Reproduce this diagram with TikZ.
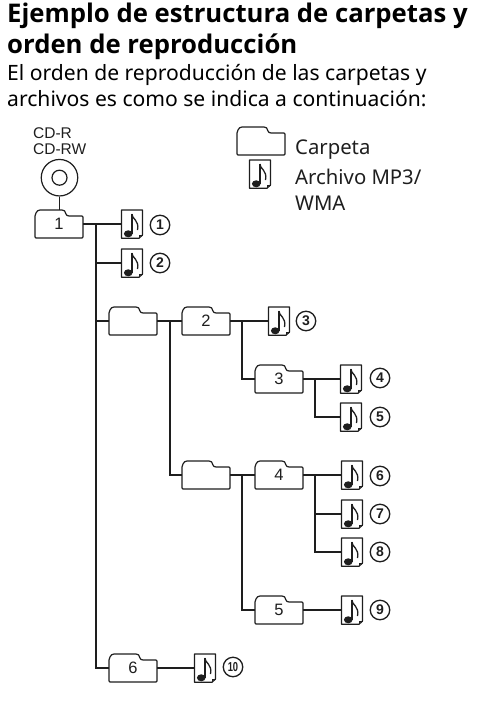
\documentclass[tikz,border=0pt]{standalone}
\usepackage{fontspec}
\setmainfont{Noto Sans}
\newfontfamily\arialf{Liberation Sans}
\newfontfamily\headf{Open Sans Bold}
\definecolor{ink}{HTML}{1E1E1E}
\tikzset{
  x=1pt,y=-1pt,
  conn/.style={draw=ink,line width=1.5pt},
  outl/.style={draw=ink,line width=1.2pt,line join=round,fill=white},
  foldbox/.style={minimum width=48pt,minimum height=28pt,inner sep=0pt,font=\arialf\fontsize{16.5}{16.5}\selectfont,text=ink},
  filebox/.style={minimum width=21pt,minimum height=28pt,inner sep=0pt},
  numc/.style={circle,draw=ink,line width=1.3pt,minimum size=19.5pt,inner sep=0pt,text=ink,font=\arialf\bfseries\fontsize{14}{14}\selectfont},
  head/.style={anchor=base west,inner sep=0pt,font=\headf\fontsize{25.7}{26}\selectfont,text=black},
  body/.style={anchor=base west,inner sep=0pt,font=\fontsize{21.1}{22}\selectfont,text=black},
  leg/.style={anchor=base west,inner sep=0pt,font=\fontsize{20.3}{21}\selectfont,text=ink},
  cdl/.style={anchor=base west,inner sep=0pt,font=\arialf\fontsize{15.5}{16}\selectfont,text=ink}
}
% folder outline around centre (x,y)
\newcommand{\foldshape}[2]{%
  \draw[outl,shift={(#1,#2)}] (-23,14) -- (23,14) .. controls (23.7,14) and (24,13.7) .. (24,13)
   -- (24,-7) .. controls (24,-7.7) and (23.7,-8) .. (23,-8) -- (10,-8) .. controls (8,-8) and (7.5,-9) .. (7,-10)
   .. controls (6,-13) and (5.5,-14) .. (3,-14) -- (-19,-14) .. controls (-21,-14) and (-22,-13) .. (-23,-11)
   .. controls (-23.7,-10) and (-24,-9.5) .. (-24,-8) -- (-24,13) .. controls (-24,13.7) and (-23.7,14) .. (-23,14) -- cycle;}
\newcommand{\fold}[4]{% name, x, y, label
  \foldshape{#2}{#3}
  \node[foldbox] (#1) at (#2,#3) {\raisebox{-1pt}{#4}};}
% file (note) around centre
\newcommand{\notefile}[3]{% name, x, y
  \draw[outl,shift={(#2,#3)}] (-10.5,-14) -- (10.5,-14) -- (10.5,11) -- (7,14.3) -- (-10.5,14.3) -- cycle;
  \draw[ink,line width=0.7pt,shift={(#2,#3)}] (7,14) -- (7,11) -- (10.5,11);
  \fill[ink,shift={(#2,#3)}] (-3.8,9.8) ellipse (4.3 and 3.5);
  \draw[ink,line width=1.6pt,shift={(#2,#3)}] (-0.3,10) -- (-0.3,-10);
  \draw[ink,line width=1.3pt,shift={(#2,#3)}] (-0.3,-10) .. controls (0.2,-5) and (7.5,-3.5) .. (5.5,6);
  \node[filebox] (#1) at (#2,#3) {};}
\newcommand{\numb}[4]{% name,x,y,text
  \node[numc] (#1) at (#2,#3) {#4};}
\begin{document}
\begin{tikzpicture}
\useasboundingbox (0,0) rectangle (478,705);
\node[head] (h1) at (7,22) {Ejemplo de estructura de carpetas y};
\node[head] (h2) at (7,53) {orden de reproducción};
\node[body] (b1) at (7,80) {El orden de reproducción de las carpetas y};
\node[body] (b2) at (7,106) {archivos es como se indica a continuación:};
% legend
\foldshape{261}{141}
\node[foldbox] (lf) at (261,141) {};
\notefile{ln}{260}{174}
\node[leg] (t1) at (295,154) {Carpeta};
\node[leg] (t2) at (295,184) {Archivo MP3/};
\node[leg] (t3) at (295,210) {WMA};
% disc
\node[cdl] (c1) at (33,138) {CD-R};
\node[cdl] (c2) at (33,154) {CD-RW};
\node[circle,draw=ink,line width=1.2pt,minimum size=36.5pt,inner sep=0pt] (disc) at (59.5,177.7) {};
\node[circle,draw=ink,line width=1.2pt,minimum size=15pt,inner sep=0pt] (hole) at (59.5,177.7) {};
% folders and files
\fold{f1}{59}{224}{1}
\notefile{n1}{132}{224}
\notefile{n2}{132}{263}
\fold{fa}{133}{321}{}
\fold{f2}{206}{321}{2}
\notefile{n3}{279}{321}
\fold{f3}{279}{379}{3}
\notefile{n4}{351}{379}
\notefile{n5}{351}{417}
\fold{fb}{206}{475}{}
\fold{f4}{279}{475}{4}
\notefile{n6}{352}{475}
\notefile{n7}{352}{514}
\notefile{n8}{352}{552}
\fold{f5}{279}{610}{5}
\notefile{n9}{352}{610}
\fold{f6}{133}{668}{6}
\notefile{n10}{205}{668}
% numbers
\numb{k1}{160}{225}{1}
\numb{k2}{160}{263}{2}
\numb{k3}{306}{321}{3}
\numb{k4}{380}{378}{4}
\numb{k5}{380}{417}{5}
\numb{k6}{380}{476}{6}
\numb{k7}{380}{514}{7}
\numb{k8}{380}{552}{8}
\numb{k9}{380}{610}{9}
\node[numc,font=\arialf\bfseries\fontsize{13}{13}\selectfont] (k10) at (233,667) {\scalebox{0.72}[1]{10}};
% connectors
\draw[conn] (disc) -- (f1.north -| disc);
\draw[conn] (f1.east) -- (n1.west);
\coordinate (t1j) at (96,224);
\draw[conn] (t1j) |- (n2.west);
\draw[conn] (t1j) |- (fa.west);
\draw[conn] (t1j) |- (f6.west);
\draw[conn] (fa.east) -- (f2.west);
\coordinate (t2j) at (170,321);
\draw[conn] (t2j) |- (fb.west);
\draw[conn] (f2.east) -- (n3.west);
\coordinate (t3j) at (242,321);
\draw[conn] (t3j) |- (f3.west);
\draw[conn] (f3.east) -- (n4.west);
\coordinate (t4j) at (315,379);
\draw[conn] (t4j) |- (n5.west);
\draw[conn] (fb.east) -- (f4.west);
\draw[conn] (f4.east) -- (n6.west);
\coordinate (t5j) at (315,475);
\draw[conn] (t5j) |- (n7.west);
\draw[conn] (t5j) |- (n8.west);
\coordinate (t6j) at (242,475);
\draw[conn] (t6j) |- (f5.west);
\draw[conn] (f5.east) -- (n9.west);
\draw[conn] (f6.east) -- (n10.west);
\end{tikzpicture}
\end{document}
